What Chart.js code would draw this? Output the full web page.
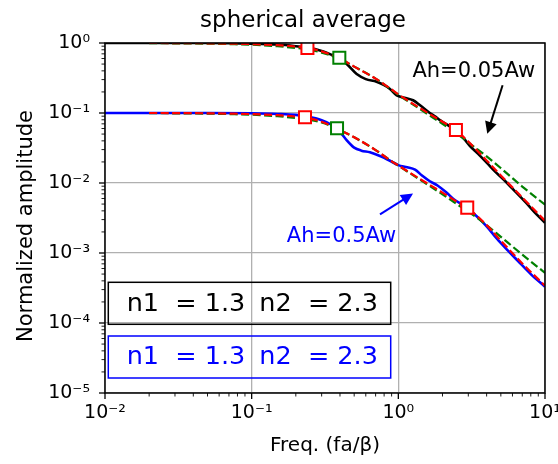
<!DOCTYPE html>
<html>
<head>
<meta charset="utf-8">
<script src="https://cdn.jsdelivr.net/npm/chart.js@4/dist/chart.umd.min.js"></script>
<style>
  html, body { margin: 0; padding: 0; background: #fff; }
  canvas { display: block; }
</style>
</head>
<body>
<canvas id="chart" width="558" height="464"></canvas>
<script>
// ---- data ----
const xMajor = [0.01, 0.1, 1, 10];
const xTickLabels = ['10⁻²', '10⁻¹', '10⁰', '10¹'];
const yMajor = [1e-5, 1e-4, 1e-3, 1e-2, 1e-1, 1];
const yTickLabels = ['10⁻⁵', '10⁻⁴', '10⁻³', '10⁻²', '10⁻¹', '10⁰'];

// spectra (solid)
const blackFreq = [0.01, 0.05, 0.1, 0.15, 0.2, 0.24, 0.3, 0.35, 0.4, 0.445, 0.52, 0.6, 0.71, 0.8, 0.877, 0.975, 1.1, 1.26, 1.4, 1.64, 1.8, 1.92, 2.2, 2.47, 2.8, 3.07, 3.5, 4, 4.5, 5.2, 6, 7.5, 8.5, 10];
const blackAmp = [1.0, 1.0, 0.98, 0.95, 0.9, 0.86, 0.77, 0.68, 0.6, 0.5, 0.36, 0.305, 0.28, 0.25, 0.22, 0.178, 0.165, 0.152, 0.13, 0.1, 0.088, 0.079, 0.066, 0.057, 0.043, 0.034, 0.026, 0.0195, 0.015, 0.0113, 0.0083, 0.0051, 0.0038, 0.0027];
const blueFreq = [0.01, 0.05, 0.1, 0.15, 0.2, 0.24, 0.3, 0.35, 0.4, 0.444, 0.5, 0.56, 0.64, 0.75, 0.877, 1.0, 1.15, 1.3, 1.45, 1.64, 1.85, 2.13, 2.4, 2.7, 3.0, 3.5, 4.0, 4.7, 5.5, 6.5, 8.0, 10];
const blueAmp = [0.1, 0.1, 0.099, 0.097, 0.094, 0.089, 0.079, 0.068, 0.054, 0.041, 0.032, 0.029, 0.0275, 0.0243, 0.0208, 0.018, 0.0168, 0.0155, 0.0128, 0.0106, 0.0092, 0.0073, 0.0058, 0.005, 0.0043, 0.0032, 0.0024, 0.0016, 0.00112, 0.00078, 0.0005, 0.00033];

// model fits (dashed)
const modelFreq = [0.02, 0.03, 0.05, 0.07, 0.1, 0.15, 0.2, 0.24, 0.3, 0.4, 0.5, 0.7, 0.877, 1, 1.5, 2, 2.47, 3, 4, 5, 7, 10];
const redBlack = [1.0, 0.998, 0.99, 0.98, 0.965, 0.93, 0.89, 0.85, 0.76, 0.6, 0.46, 0.31, 0.225, 0.185, 0.108, 0.075, 0.057, 0.039, 0.021, 0.0128, 0.0062, 0.0029];
const greenBlack = [0.995, 0.99, 0.98, 0.965, 0.945, 0.9, 0.85, 0.81, 0.73, 0.59, 0.46, 0.31, 0.222, 0.182, 0.104, 0.07, 0.052, 0.038, 0.024, 0.0163, 0.0089, 0.0049];
const redBlue = [0.1, 0.0998, 0.099, 0.098, 0.0965, 0.093, 0.089, 0.085, 0.075, 0.057, 0.045, 0.0295, 0.0212, 0.0178, 0.0105, 0.0073, 0.0055, 0.0043, 0.0025, 0.0015, 0.00071, 0.00034];
const greenBlue = [0.0995, 0.099, 0.098, 0.0965, 0.0945, 0.09, 0.085, 0.081, 0.073, 0.057, 0.045, 0.0295, 0.0212, 0.0177, 0.0102, 0.0069, 0.0051, 0.0039, 0.0025, 0.0017, 0.00095, 0.00052];

// corner-frequency markers
const redSquareFreq = [0.24, 2.47, 0.231, 2.95];
const redSquareAmp = [0.85, 0.057, 0.087, 0.00445];
const greenSquareFreq = [0.396, 0.382];
const greenSquareAmp = [0.615, 0.0607];

const legendText = ['n1  = 1.3', 'n2  = 2.3'];

const pts = (xs, ys) => xs.map((x, i) => ({x: x, y: ys[i]}));
const isMajor = (v, majors) => majors.some(m => Math.abs(Math.log10(m) - Math.log10(v)) < 1e-6);
const labelFor = (v, majors, labels) => {
    const i = majors.findIndex(m => Math.abs(Math.log10(m) - Math.log10(v)) < 1e-6);
    return i >= 0 ? labels[i] : '';
};
function logTicks(lo, hi){
    const out = [];
    for (let d = Math.round(Math.log10(lo)); d < Math.round(Math.log10(hi)); d++){
        for (let k = 1; k < 10; k++) out.push({value: k * Math.pow(10, d)});
    }
    out.push({value: hi});
    return out;
}

const FONT = "'DejaVu Sans', sans-serif";

const decor = {
    id: 'decor',
    beforeDraw(chart){
        const c = chart.ctx;
        c.save();
        c.fillStyle = '#fff';
        c.fillRect(0, 0, chart.width, chart.height);
        c.restore();
    },
    afterDraw(chart){
        const c = chart.ctx;
        const a = chart.chartArea;
        const xs = chart.scales.x, ys = chart.scales.y;
        c.save();
        // tick marks (outward)
        c.strokeStyle = '#000';
        xs.ticks.forEach(t => {
            const px = xs.getPixelForValue(t.value);
            const major = isMajor(t.value, xMajor);
            c.lineWidth = major ? 1.3 : 0.9;
            c.beginPath();
            c.moveTo(px, a.bottom);
            c.lineTo(px, a.bottom + (major ? 6 : 3.5));
            c.stroke();
        });
        ys.ticks.forEach(t => {
            const py = ys.getPixelForValue(t.value);
            const major = isMajor(t.value, yMajor);
            c.lineWidth = major ? 1.3 : 0.9;
            c.beginPath();
            c.moveTo(a.left, py);
            c.lineTo(a.left - (major ? 6 : 3.5), py);
            c.stroke();
        });
        // frame
        c.lineWidth = 1.5;
        c.strokeRect(a.left, a.top, a.right - a.left, a.bottom - a.top);

        // title
        c.fillStyle = '#000';
        c.font = '23px ' + FONT;
        c.textAlign = 'center';
        c.textBaseline = 'alphabetic';
        c.fillText('spherical average', 303, 27);

        // y axis title
        c.save();
        c.translate(32, (a.top + a.bottom) / 2 + 8);
        c.rotate(-Math.PI / 2);
        c.font = '21px ' + FONT;
        c.fillText('Normalized amplitude', 0, 0);
        c.restore();

        // annotations with arrows
        function arrow(x0, y0, x1, y1, color){
            const ang = Math.atan2(y1 - y0, x1 - x0);
            const hl = 12, hw = 6;
            c.strokeStyle = color; c.fillStyle = color; c.lineWidth = 2;
            c.beginPath();
            c.moveTo(x0, y0);
            c.lineTo(x1 - Math.cos(ang) * hl * 0.8, y1 - Math.sin(ang) * hl * 0.8);
            c.stroke();
            c.beginPath();
            c.moveTo(x1, y1);
            c.lineTo(x1 - Math.cos(ang) * hl - Math.sin(ang) * hw, y1 - Math.sin(ang) * hl + Math.cos(ang) * hw);
            c.lineTo(x1 - Math.cos(ang) * hl + Math.sin(ang) * hw, y1 - Math.sin(ang) * hl - Math.cos(ang) * hw);
            c.closePath();
            c.fill();
        }
        c.font = '21px ' + FONT;
        c.fillStyle = '#000';
        c.fillText('Ah=0.05Aw', xs.getPixelForValue(3.27), ys.getPixelForValue(0.328));
        arrow(xs.getPixelForValue(5.14), ys.getPixelForValue(0.249), xs.getPixelForValue(4.04), ys.getPixelForValue(0.0504), '#000');
        c.fillStyle = '#0000ff';
        c.fillText('Ah=0.5Aw', xs.getPixelForValue(0.41), ys.getPixelForValue(0.00144));
        arrow(xs.getPixelForValue(0.75), ys.getPixelForValue(0.00357), xs.getPixelForValue(1.26), ys.getPixelForValue(0.00706), '#0000ff');

        // parameter boxes
        c.textAlign = 'left';
        c.font = '25.5px ' + FONT;
        [['#000', 282.3, 310.7], ['#0000ff', 336, 364.3]].forEach(([col, top, base]) => {
            c.strokeStyle = col;
            c.lineWidth = 1.5;
            c.strokeRect(108.3, top, 282.4, 42);
            c.fillStyle = col;
            c.fillText(legendText[0], 126.7, base);
            c.fillText(legendText[1], 259.3, base);
        });
        c.restore();
    }
};

const solid = (data, color, order) => ({
    data: data, borderColor: color, borderWidth: 2.6, showLine: true,
    pointRadius: 0, cubicInterpolationMode: 'monotone', order: order
});
const dashed = (data, color, order) => ({
    data: data, borderColor: color, borderWidth: 2.2, borderDash: [8, 3.5], showLine: true,
    pointRadius: 0, cubicInterpolationMode: 'monotone', order: order
});
const squares = (data, color) => ({
    data: data, showLine: false, pointStyle: 'rect', pointRadius: 8.5,
    pointBackgroundColor: '#fff', pointBorderColor: color, pointBorderWidth: 2, order: 0
});

new Chart(document.getElementById('chart'), {
    type: 'scatter',
    data: {
        datasets: [
            solid(pts(blackFreq, blackAmp), '#000000', 3),
            solid(pts(blueFreq, blueAmp), '#0000ff', 3),
            dashed(pts(modelFreq, greenBlack), '#008000', 2),
            dashed(pts(modelFreq, greenBlue), '#008000', 2),
            dashed(pts(modelFreq, redBlack), '#ff0000', 1),
            dashed(pts(modelFreq, redBlue), '#ff0000', 1),
            squares(pts(redSquareFreq, redSquareAmp), '#ff0000'),
            squares(pts(greenSquareFreq, greenSquareAmp), '#008000')
        ]
    },
    options: {
        responsive: false,
        animation: false,
        events: [],
        layout: {padding: {top: 43, right: 13, left: 0, bottom: 0}},
        plugins: {legend: {display: false}, tooltip: {enabled: false}, title: {display: false}},
        scales: {
            x: {
                type: 'logarithmic', min: 0.01, max: 10,
                afterBuildTicks: s => { s.ticks = logTicks(0.01, 10); },
                afterFit: s => { s.height = 71; s.paddingLeft = 0; s.paddingRight = 0; },
                grid: {
                    drawTicks: false,
                    color: c => (c.tick && isMajor(c.tick.value, xMajor)) ? '#b0b0b0' : 'rgba(0,0,0,0)',
                    lineWidth: 1.3
                },
                border: {display: false},
                ticks: {
                    autoSkip: false, maxRotation: 0, padding: 9, color: '#000',
                    font: {family: FONT, size: 19},
                    callback: v => labelFor(v, xMajor, xTickLabels)
                },
                title: {display: true, text: 'Freq. (fa/β)', color: '#000', font: {family: FONT, size: 20}, padding: {bottom: 6}}
            },
            y: {
                type: 'logarithmic', min: 1e-5, max: 1,
                afterBuildTicks: s => { s.ticks = logTicks(1e-5, 1); },
                afterFit: s => { s.width = 105; s.paddingTop = 0; s.paddingBottom = 0; },
                grid: {
                    drawTicks: false,
                    color: c => (c.tick && isMajor(c.tick.value, yMajor)) ? '#b0b0b0' : 'rgba(0,0,0,0)',
                    lineWidth: 1.3
                },
                border: {display: false},
                ticks: {
                    autoSkip: false, padding: 15, color: '#000',
                    font: {family: FONT, size: 19},
                    callback: v => labelFor(v, yMajor, yTickLabels)
                },
                title: {display: false}
            }
        }
    },
    plugins: [decor]
});
</script>
</body>
</html>
